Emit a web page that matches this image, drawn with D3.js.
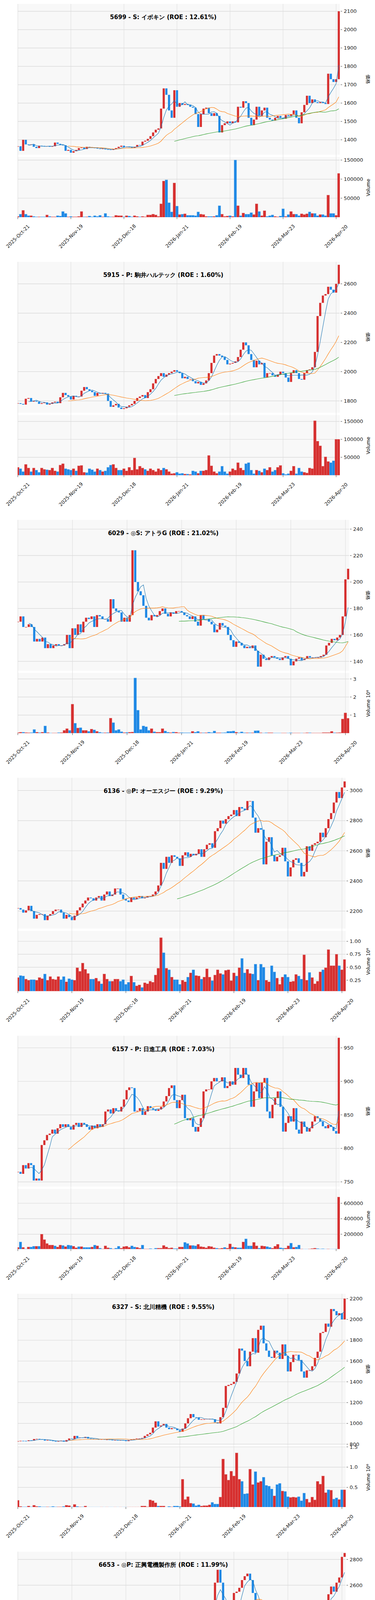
<!DOCTYPE html>
<html><head><meta charset="utf-8">
<script src="https://cdn.jsdelivr.net/npm/d3@7"></script>
<style>body{margin:0;background:#fff}svg{display:block}text{font-family:"DejaVu Sans",sans-serif}</style>
</head><body>
<script>
const titles = ["5699 - S: イボキン (ROE : 12.61%)","5915 - P: 駒井ハルテック (ROE : 1.60%)","6029 - ◎S: アトラG (ROE : 21.02%)","6136 - ◎P: オーエスジー (ROE : 9.29%)","6157 - P: 日進工具 (ROE : 7.03%)","6327 - S: 北川精機 (ROE : 9.55%)","6653 - ◎P: 正興電機製作所 (ROE : 11.99%)","6666 - ◎S: リバーエレテック (ROE : -2.78%)","6754 - ◎P: アンリツ (ROE : 8.38%)","6817 - ◎P: スミダｺｰﾎﾟﾚｰｼｮﾝ (ROE : 5.68%)"];
const dateTicks = ["2025-Oct-21","2025-Nov-19","2025-Dec-18","2026-Jan-21","2026-Feb-19","2026-Mar-23","2026-Apr-20"];
const dateTickIdx = [0,20,40,60,80,100,120];

const close5699=[1365,1340,1400,1375,1372,1375,1362,1355,1368,1367,1366,1366,1362,1365,1385,1378,1372,1370,1340,1345,1330,1338,1345,1355,1358,1350,1362,1360,1357,1355,1352,1350,1352,1348,1347,1345,1350,1355,1362,1368,1360,1362,1360,1356,1362,1372,1370,1390,1395,1405,1420,1440,1455,1462,1570,1680,1645,1560,1520,1670,1580,1600,1590,1595,1590,1580,1575,1540,1470,1540,1570,1575,1545,1530,1545,1530,1440,1480,1490,1500,1490,1500,1495,1580,1575,1610,1600,1520,1480,1510,1580,1530,1560,1575,1520,1510,1505,1520,1530,1520,1515,1535,1530,1540,1560,1520,1490,1550,1590,1640,1600,1620,1605,1600,1605,1600,1595,1760,1730,1715,1730,2100];
const vol5699=[2,8,18,8,4,4,2,1,1,1,1,6,2,1,1,4,3,15,10,1,2,1,1,2,15,1,1,3,1,4,2,5,1,10,2,1,1,5,4,4,1,4,3,1,4,2,1,2,1,6,6,8,6,2,35,95,98,38,14,90,29,7,8,9,5,5,5,4,14,8,7,2,2,2,2,5,30,8,2,3,4,2,150,30,4,11,8,8,12,7,35,15,4,17,2,4,6,2,1,3,22,2,7,15,8,8,4,9,7,9,14,10,10,4,7,7,4,58,10,10,5,115].map(v=>v*1000);

const close5915=[1785,1780,1775,1815,1820,1795,1800,1795,1780,1785,1790,1775,1780,1790,1795,1785,1825,1855,1840,1830,1810,1835,1830,1830,1870,1895,1880,1870,1860,1835,1855,1850,1855,1850,1800,1760,1770,1780,1755,1745,1750,1760,1770,1780,1800,1820,1830,1840,1820,1860,1880,1920,1950,1970,1990,1965,1980,1990,2000,2010,2000,1990,1955,1965,1950,1950,1935,1920,1930,1910,1920,1940,1990,2060,2110,2120,2110,2100,2080,2050,2055,2060,2070,2100,2150,2200,2180,2120,2080,2030,2075,2050,2060,1960,1990,1990,1975,1965,1980,2000,1990,1960,1930,1990,2010,1990,1950,1945,1990,2010,2015,2030,2135,2380,2470,2520,2530,2580,2560,2540,2600,2730];
const vol5915=[22,18,10,30,20,10,20,14,8,20,16,15,14,20,12,10,28,32,18,16,14,18,12,26,27,8,7,18,15,10,18,14,10,12,22,28,30,20,14,14,18,12,22,14,48,16,25,20,16,12,18,14,10,18,14,20,16,10,4,5,8,4,5,3,3,2,12,10,5,12,12,14,55,26,10,5,10,25,10,4,10,18,14,35,20,14,32,35,14,4,14,12,8,18,14,22,10,14,22,27,5,2,4,12,25,4,20,10,8,6,20,18,152,95,82,25,51,38,35,40,100,100].map(v=>v*1000);

const close6029=[170,174,166,166,168,166,155,157,155,158,150,153,150,152,153,152,152,153,160,150,165,160,168,162,170,173,172,174,166,175,174,172,172,170,187,180,178,177,170,173,170,175,224,200,193,190,182,173,171,175,174,175,178,180,176,174,177,176,178,178,177,175,174,172,174,170,167,175,172,172,170,168,162,164,169,167,166,160,156,151,155,154,152,150,151,150,152,148,136,145,142,141,143,144,143,142,141,143,144,142,137,140,142,143,141,142,144,143,143,143,143,144,145,152,154,157,156,158,160,174,202,210];
const vol6029=[0.03,0.05,0.05,0.03,0.02,0.03,0.2,0.05,0.03,0.05,0.4,0.03,0.01,0.01,0.01,0.03,0.03,0.15,0.25,0.15,1.6,0.55,0.28,0.3,0.15,0.15,0.1,0.22,0.18,0.1,0.05,0.02,0.02,0.03,0.83,0.58,0.15,0.2,0.08,0.03,0.04,0.05,0.06,3.05,1.27,0.2,0.4,0.35,0.15,0.25,0.08,0.05,0.05,0.25,0.12,0.05,0.03,0.06,0.05,0.02,0.03,0.02,0.02,0.02,0.1,0.05,0.1,0.02,0.02,0.02,0.05,0.03,0.12,0.02,0.02,0.02,0.03,0.1,0.1,0.12,0.05,0.02,0.07,0.02,0.02,0.02,0.02,0.13,0.14,0.02,0.01,0.02,0.02,0.02,0.01,0.01,0.01,0.01,0.01,0.01,0.02,0.01,0.01,0.01,0.01,0.01,0.02,0.02,0.01,0.01,0.01,0.01,0.03,0.03,0.03,0.1,0.02,0.02,0.03,0.78,1.12,0.82];

const close6136=[2220,2210,2190,2205,2235,2200,2150,2175,2180,2180,2140,2170,2180,2200,2210,2210,2190,2150,2175,2160,2140,2170,2205,2225,2250,2270,2290,2285,2270,2290,2300,2270,2310,2330,2300,2310,2350,2350,2310,2280,2270,2260,2290,2280,2290,2300,2285,2290,2300,2300,2310,2330,2370,2520,2480,2560,2520,2570,2560,2550,2500,2570,2590,2560,2580,2570,2580,2610,2560,2610,2640,2650,2620,2730,2750,2800,2780,2810,2830,2840,2870,2830,2890,2880,2870,2930,2930,2820,2720,2750,2740,2510,2660,2690,2570,2530,2560,2570,2620,2530,2430,2490,2540,2550,2520,2430,2460,2630,2600,2640,2650,2660,2720,2690,2750,2810,2850,2920,2990,2950,3020,3060];
const vol6136=[0.3,0.34,0.33,0.27,0.25,0.26,0.26,0.25,0.3,0.28,0.37,0.25,0.32,0.27,0.26,0.32,0.26,0.32,0.22,0.28,0.26,0.25,0.49,0.42,0.58,0.46,0.38,0.27,0.27,0.29,0.23,0.18,0.37,0.27,0.23,0.23,0.27,0.27,0.23,0.26,0.17,0.21,0.33,0.21,0.14,0.16,0.11,0.2,0.18,0.23,0.21,0.35,0.48,1.07,0.78,0.48,0.45,0.31,0.26,0.26,0.17,0.25,0.22,0.31,0.39,0.45,0.34,0.33,0.27,0.31,0.47,0.31,0.24,0.35,0.45,0.38,0.36,0.44,0.45,0.24,0.39,0.33,0.49,0.67,0.39,0.46,0.38,0.37,0.56,0.25,0.56,0.5,0.25,0.22,0.53,0.41,0.29,0.17,0.31,0.36,0.31,0.22,0.23,0.36,0.33,0.27,0.74,0.25,0.4,0.3,0.18,0.23,0.41,0.45,0.49,0.84,0.53,0.53,0.75,0.53,0.45,0.65];

const close6157=[765,762,775,770,778,775,752,755,752,805,812,820,822,828,822,830,836,832,836,832,828,835,838,832,838,836,832,828,834,830,836,832,836,855,858,852,860,856,855,862,873,887,891,890,855,856,860,850,855,863,860,858,856,858,862,870,878,890,894,872,860,872,880,845,842,845,832,825,832,845,885,888,888,900,905,900,900,906,890,893,900,895,920,910,905,920,910,895,862,885,898,875,898,905,855,845,865,875,885,862,825,838,848,840,860,828,822,840,832,825,830,840,848,845,840,833,830,835,832,826,822,965];
const vol6157=[30,100,30,10,35,35,45,45,45,200,130,80,60,60,50,35,60,55,40,60,55,45,25,40,40,30,30,30,35,60,50,20,10,50,25,20,10,20,45,20,40,45,30,50,35,30,20,60,10,10,15,5,20,20,20,55,35,20,25,15,15,35,35,95,80,55,55,50,70,40,35,25,45,40,25,20,15,20,30,20,75,35,30,25,25,100,140,50,50,95,50,20,50,45,40,30,20,45,70,25,20,20,50,85,30,35,60,10,5,5,10,15,20,15,10,12,8,10,8,5,8,680].map(v=>v*1000);

const close6327=[830,833,832,830,838,835,850,852,848,845,835,840,835,830,825,830,835,825,840,855,850,880,860,865,860,870,855,852,850,848,845,848,845,845,842,838,840,838,840,838,830,840,845,850,855,855,860,880,895,910,960,1020,970,980,995,960,945,955,950,935,920,950,1000,1050,1090,1060,1055,1035,1040,1040,1045,1045,1040,1010,1000,1060,1150,1360,1370,1380,1400,1480,1720,1700,1600,1550,1690,1820,1680,1900,1940,1770,1700,1640,1630,1700,1680,1620,1760,1650,1500,1590,1660,1660,1610,1500,1440,1510,1510,1550,1630,1690,1870,1880,1960,1930,2100,2080,2040,2060,2000,2200];
const vol6327=[0.18,0.03,0.02,0.02,0.04,0.02,0.06,0.03,0.03,0.02,0.02,0.02,0.02,0.03,0.02,0.02,0.02,0.03,0.06,0.05,0.02,0.08,0.03,0.02,0.02,0.04,0.01,0.01,0.01,0.01,0.01,0.01,0.01,0.01,0.01,0.01,0.01,0.01,0.01,0.01,0.01,0.01,0.01,0.01,0.01,0.01,0.04,0.04,0.02,0.19,0.17,0.12,0.04,0.04,0.04,0.01,0.03,0.02,0.04,0.04,0.03,0.7,0.2,0.27,0.11,0.1,0.05,0.07,0.04,0.05,0.05,0.07,0.13,0.09,0.09,0.26,1.2,0.82,0.68,0.9,0.78,1.35,0.7,0.65,0.34,0.35,0.95,0.57,0.89,0.62,0.65,0.75,0.55,0.53,0.46,0.29,0.57,0.6,0.41,0.4,0.27,0.25,0.26,0.25,0.27,0.17,0.36,0.21,0.13,0.26,0.19,0.65,0.58,0.78,0.37,0.44,0.43,0.21,0.24,0.2,0.44,0.44];

const close6653=[1710,1780,1800,1820,1900,2050,2000,2160,2190,2200,2230,2290,2260,2260,2280,2290,2390,2310,2300,2230,2180,2240,2140,2130,2170,2280,2320,2220,2250,2230,2230,2200,2270,2250,2260,2300,2260,2290,2230,2260,2140,2230,2290,2320,2340,2400,2380,2370,2330,2390,2420,2370,2370,2330,2380,2320,2380,2380,2340,2290,2240,2280,2260,2220,2240,2200,2240,2210,2220,2330,2400,2440,2430,2620,2720,2620,2250,2260,2220,2290,2540,2550,2580,2640,2670,2690,2640,2540,2280,2440,2380,2230,2330,2360,2290,2220,2240,2320,2440,2310,2130,2260,2320,2290,2230,2170,2120,2260,2250,2230,2280,2300,2440,2430,2480,2530,2590,2550,2620,2660,2820,2850];
const vol6653=[0.1,0.18,0.16,0.13,0.36,1.01,0.44,0.58,0.26,0.26,0.46,0.3,0.26,0.15,0.15,0.17,0.18,0.25,0.2,0.17,0.18,0.1,0.22,0.2,0.13,0.14,0.09,0.1,0.07,0.1,0.07,0.03,0.07,0.04,0.04,0.06,0.07,0.06,0.05,0.07,0.06,0.14,0.09,0.08,0.12,0.19,0.05,0.03,0.08,0.2,0.05,0.02,0.02,0.13,0.11,0.09,0.06,0.06,0.04,0.05,0.04,0.04,0.04,0.06,0.03,0.08,0.11,0.12,0.14,0.12,0.11,0.12,0.27,0.21,0.28,1.1,0.37,0.2,0.17,0.58,0.21,0.15,0.16,0.12,0.05,0.1,0.1,0.41,0.14,0.11,0.27,0.07,0.06,0.08,0.05,0.14,0.09,0.09,0.17,0.1,0.04,0.02,0.03,0.18,0.13,0.09,0.08,0.04,0.02,0.03,0.14,0.08,0.08,0.11,0.09,0.11,0.11,0.12,0.15,0.18,0.26,0.23];

const close6666=[437,490,470,450,445,447,437,430,445,462,450,448,448,380,375,373,375,372,367,365,362,365,363,367,370,377,373,377,410,440,420,390,375,378,395,450,480,460,445,450,450,430,425,425,425,445,448,452,440,436,438,448,452,448,450,450,465,465,460,465,447,452,450,446,444,442,442,447,443,440,446,462,462,475,482,470,455,505,560,570,550,530,540,550,553,610,615,600,560,645,675,625,720,870,880,825,910,800,780,690,640,670,745,690,740,725,720,750,715,720,725,720,760,760,810,840,865,870,965,905,960,1050];
const vol6666=[0.03,1.2,0.15,0.1,0.03,0.02,0.02,0.02,0.02,0.02,0.02,0.02,0.02,0.15,0.1,0.08,0.03,0.02,0.02,0.02,0.01,0.01,0.01,0.01,0.01,0.01,0.01,0.01,1.6,2.8,0.35,0.3,0.15,0.02,1.0,3.6,0.2,1.8,0.5,1.0,0.32,0.3,0.12,0.25,0.15,0.15,0.05,0.1,0.1,0.07,0.08,0.03,0.03,0.03,0.03,0.03,0.08,0.06,0.04,0.04,0.04,0.02,0.02,0.02,0.02,0.02,0.02,0.02,0.02,0.02,0.04,0.05,0.05,0.03,0.03,0.15,1.6,0.4,0.1,0.1,0.08,0.05,0.05,0.22,0.35,0.3,0.18,0.38,0.47,0.2,0.2,1.17,5.1,0.85,0.98,0.6,0.28,0.37,0.38,0.2,0.52,0.53,0.26,0.15,0.15,0.1,0.23,0.18,0.15,0.12,0.2,0.07,0.36,0.35,0.38,0.35,0.56,0.25,0.55,0.25,0.47,0.65];

const close6754=[1885,1870,1855,1860,1870,1850,1845,1880,2260,2320,2170,2270,2220,2200,2230,2210,2290,2250,2280,2240,2200,2280,2170,2200,2310,2350,2360,2390,2310,2300,2260,2310,2300,2320,2270,2220,2210,2240,2180,2180,2190,2210,2240,2240,2240,2260,2240,2260,2270,2270,2220,2250,2250,2200,2270,2330,2400,2390,2400,2350,2310,2340,2320,2280,2290,2300,2280,2120,2150,2280,2320,2340,2390,2450,2500,2420,2380,2490,2510,2500,2520,2560,2870,3080,2950,2850,3050,2960,2880,2990,2900,2700,2780,2900,2830,2880,2800,2870,2800,2830,2640,2780,2960,2960,2800,2660,2740,2960,2990,3050,3000,3130,3300,3280,3400,3400,3420,3480,3380,3430,3450,3650];
const vol6754=[1.1,0.55,0.7,1.1,1.4,0.9,0.95,2.2,3.7,7.6,3.0,1.9,1.1,0.9,1.1,1.3,1.6,0.9,0.6,1.1,0.9,0.7,1.0,1.5,0.8,0.65,0.7,0.85,0.75,0.65,0.8,1.1,0.85,0.55,0.85,0.7,0.65,0.75,0.95,0.75,0.5,0.5,1.1,0.4,0.55,0.15,0.3,0.6,0.55,0.55,0.55,0.45,0.55,0.5,0.7,0.8,0.95,0.7,0.6,0.6,0.55,0.45,0.5,0.5,0.45,1.0,1.9,4.2,2.1,2.2,1.6,1.3,0.8,1.5,1.2,0.8,0.8,1.3,1.25,1.05,0.45,1.1,3.4,5.6,3.0,1.9,1.6,2.9,1.55,1.85,1.3,2.0,0.95,1.15,0.75,0.9,1.2,1.55,0.6,1.05,2.05,1.8,1.2,1.4,1.1,1.45,0.95,1.15,1.2,0.8,0.95,0.85,1.45,0.8,2.0,1.35,0.8,1.05,0.95,1.05,1.0,1.95];

const close6817=[1080,1088,1095,1105,1122,1105,1090,1100,1095,1105,1105,1105,1095,1100,1105,1165,1170,1150,1145,1130,1110,1140,1155,1140,1145,1160,1170,1145,1140,1145,1155,1148,1165,1150,1150,1135,1145,1145,1125,1130,1125,1130,1140,1140,1145,1155,1150,1150,1150,1145,1160,1165,1145,1150,1155,1150,1165,1180,1195,1185,1165,1195,1200,1160,1170,1165,1160,1180,1150,1200,1240,1225,1240,1160,1230,1235,1200,1195,1220,1225,1205,1205,1215,1220,1230,1250,1230,1180,1110,1165,1160,1100,1160,1155,1145,1125,1130,1135,1160,1110,1070,1100,1135,1125,1140,1090,1085,1125,1140,1150,1170,1190,1220,1210,1215,1230,1245,1235,1250,1260,1315,1335];
const vol6817=[0.27,0.38,0.14,0.26,0.26,0.37,0.19,0.2,0.2,0.43,0.35,0.22,0.26,0.14,0.1,0.55,0.22,0.24,0.17,0.22,0.22,0.41,0.24,0.13,0.12,0.06,0.21,0.22,0.2,0.08,0.11,0.1,0.26,0.25,0.25,0.3,0.14,0.1,0.3,0.12,0.14,0.17,0.27,0.13,0.14,0.13,0.26,0.48,0.25,0.28,0.42,0.34,0.27,0.23,0.43,0.3,0.31,0.43,0.33,0.16,0.3,0.33,0.41,0.5,0.27,0.21,0.25,0.19,0.33,0.38,0.38,0.25,0.24,1.08,0.83,0.44,0.35,0.2,0.24,0.12,0.3,0.39,0.21,0.2,0.16,0.28,0.29,0.55,0.71,0.34,0.22,0.44,0.22,0.24,0.22,0.27,0.24,0.14,0.23,0.14,0.39,0.16,0.23,0.1,0.23,0.21,0.25,0.16,0.15,0.13,0.28,0.14,0.21,0.11,0.14,0.17,0.22,0.2,0.13,0.2,0.46,0.44];

const closes=[close5699,close5915,close6029,close6136,close6157,close6327,close6653,close6666,close6754,close6817];
const vols=[vol5699,vol5915,vol6029,vol6136,vol6157,vol6327,vol6653,vol6666,vol6754,vol6817];
const priceDomains=[[1319,2140],[1720,2750],[133,247],[2084,3084],[743,968],[797,2247],[1690,2860],[350,1075],[1780,3696],[1040,1351]];
const priceTicks=[[1400,2100,100],[1800,2600,200],[140,240,20],[2200,3000,200],[750,950,50],[800,2200,200],[1800,2800,200],[400,1000,100],[2000,3500,250],[1050,1350,50]];
const volDomains=[[0,158000],[0,168000],[0,3.33],[0.04,1.2],[8000,785000],[0.015,1.5],[0.02,1.21],[0.03,5.6],[0.15,8.3],[0.036,1.16]];
const volTicks=[[50000,100000,150000],[50000,100000,150000],[1,2,3],[0.25,0.5,0.75,1.0],[200000,400000,600000],[0.5,1.0,1.5],[0.25,0.5,0.75,1.0],[2,4],[2,4,6,8],[0.25,0.5,0.75,1.0]];
const volFmt=["d","d","d",".2f","d",".1f",".2f","d","d",".2f"];
const volMega=[false,false,true,true,false,true,true,true,true,true];
const plotRight=[870,870,894,885,870,885,885,885,885,885];
const maWin=[5,20,60], maCol=["#1f77b4","#ff7f0e","#2ca02c"];

const W=960,H=6604,PH=660.4,L=45;
const PT=10,PB=396,VT=402,VB=556;
const UP="#d62f2f",DN="#1e88e5";
const svg=d3.select("body").append("svg").attr("width",W).attr("height",H);

closes.forEach((c,k)=>{
  const g=svg.append("g").attr("transform",`translate(0,${k*PH})`);
  const R=plotRight[k], n=c.length;
  const x=d3.scaleLinear().domain([-0.1,n-0.6]).range([L,R]);
  const y=d3.scaleLinear().domain(priceDomains[k]).range([PB,PT]);
  const yv=d3.scaleLinear().domain(volDomains[k]).range([VB,VT]);
  const bw=(x(1)-x(0))*0.8;
  const id="c"+k;
  g.append("clipPath").attr("id",id).append("rect").attr("x",L).attr("y",PT).attr("width",R-L).attr("height",PB-PT);
  g.append("clipPath").attr("id",id+"v").append("rect").attr("x",L).attr("y",VT).attr("width",R-L).attr("height",VB-VT);
  g.append("rect").attr("x",L).attr("y",PT).attr("width",R-L).attr("height",PB-PT).attr("fill","#f8f8f8");
  g.append("rect").attr("x",L).attr("y",VT).attr("width",R-L).attr("height",VB-VT).attr("fill","#f8f8f8");
  const [t0,t1,ts]=priceTicks[k]; const pt=d3.range(t0,t1+ts/2,ts);
  g.selectAll(".gy").data(pt).join("line").attr("x1",L).attr("x2",R).attr("y1",d=>y(d)).attr("y2",d=>y(d)).attr("stroke","#d6d6d6").attr("stroke-width",1.2);
  g.selectAll(".gv").data(volTicks[k]).join("line").attr("x1",L).attr("x2",R).attr("y1",d=>yv(d)).attr("y2",d=>yv(d)).attr("stroke","#d6d6d6").attr("stroke-width",1.2);
  g.selectAll(".gx").data(dateTickIdx).join("line").attr("x1",d=>x(d)).attr("x2",d=>x(d)).attr("y1",PT).attr("y2",VB).attr("stroke","#dcdcdc").attr("stroke-width",1);
  const opens=c.map((v,i)=>i===0?v:c[i-1]);
  const up=c.map((v,i)=>v>=opens[i]);
  const cg=g.append("g").attr("clip-path",`url(#${id})`);
  cg.selectAll("rect").data(c).join("rect")
    .attr("x",(d,i)=>x(i)-bw/2).attr("width",bw)
    .attr("y",(d,i)=>y(Math.max(d,opens[i])))
    .attr("height",(d,i)=>Math.max(1.2,Math.abs(y(d)-y(opens[i]))))
    .attr("fill",(d,i)=>up[i]?UP:DN);
  maWin.forEach((w,j)=>{
    const pts=[];
    for(let i=w-1;i<n;i++){pts.push([i,d3.mean(c.slice(i-w+1,i+1))]);}
    cg.append("path").attr("d",d3.line().x(d=>x(d[0])).y(d=>y(d[1]))(pts)).attr("fill","none").attr("stroke",maCol[j]).attr("stroke-width",1.1);
  });
  const vg=g.append("g").attr("clip-path",`url(#${id}v)`);
  const vd=volDomains[k][0];
  vg.selectAll("rect").data(vols[k]).join("rect")
    .attr("x",(d,i)=>x(i)-bw/2-0.6).attr("width",bw+1.2)
    .attr("y",d=>yv(Math.max(d,vd))).attr("height",d=>Math.max(0,yv(vd)-yv(d)+2))
    .attr("fill",(d,i)=>up[i]?UP:DN).attr("stroke",(d,i)=>up[i]?"#e07070":"#6fb4ee").attr("stroke-width",0.6);
  const fs=13;
  g.selectAll(".pt").data(pt).join("text").attr("x",R+10).attr("y",d=>y(d)+4.5).attr("font-size",fs).attr("fill","#222").text(d=>d);
  g.selectAll(".ptk").data(pt).join("line").attr("x1",R+2).attr("x2",R+6).attr("y1",d=>y(d)).attr("y2",d=>y(d)).attr("stroke","#444");
  const vf=d3.format(volFmt[k]);
  g.selectAll(".vt").data(volTicks[k]).join("text").attr("x",R+10).attr("y",d=>yv(d)+4.5).attr("font-size",fs).attr("fill","#222").text(d=>vf(d));
  g.selectAll(".vtk").data(volTicks[k]).join("line").attr("x1",R+2).attr("x2",R+6).attr("y1",d=>yv(d)).attr("y2",d=>yv(d)).attr("stroke","#444");
  g.append("text").attr("transform",`translate(${W-22},203) rotate(90)`).attr("font-size",12).attr("text-anchor","middle").text("価格");
  g.append("text").attr("transform",`translate(${W-13},480) rotate(-90)`).attr("font-size",12).attr("text-anchor","middle").text(volMega[k]?"Volume  10⁶":"Volume");
  g.selectAll(".xtk").data(dateTickIdx).join("line").attr("x1",d=>x(d)).attr("x2",d=>x(d)).attr("y1",VB).attr("y2",VB+5).attr("stroke","#444");
  g.selectAll(".xl").data(dateTickIdx).join("text").attr("font-size",12.5).attr("text-anchor","middle").attr("dy","0.35em").attr("fill","#222")
    .attr("transform",d=>`translate(${x(d)},605) rotate(-45)`).text((d,i)=>dateTicks[i]);
  g.append("text").attr("x",418).attr("y",49).attr("text-anchor","middle").attr("font-size",15).attr("font-weight","bold")
    .attr("font-family","'Noto Sans CJK JP','DejaVu Sans',sans-serif").text(titles[k]);
});
</script>
</body></html>
